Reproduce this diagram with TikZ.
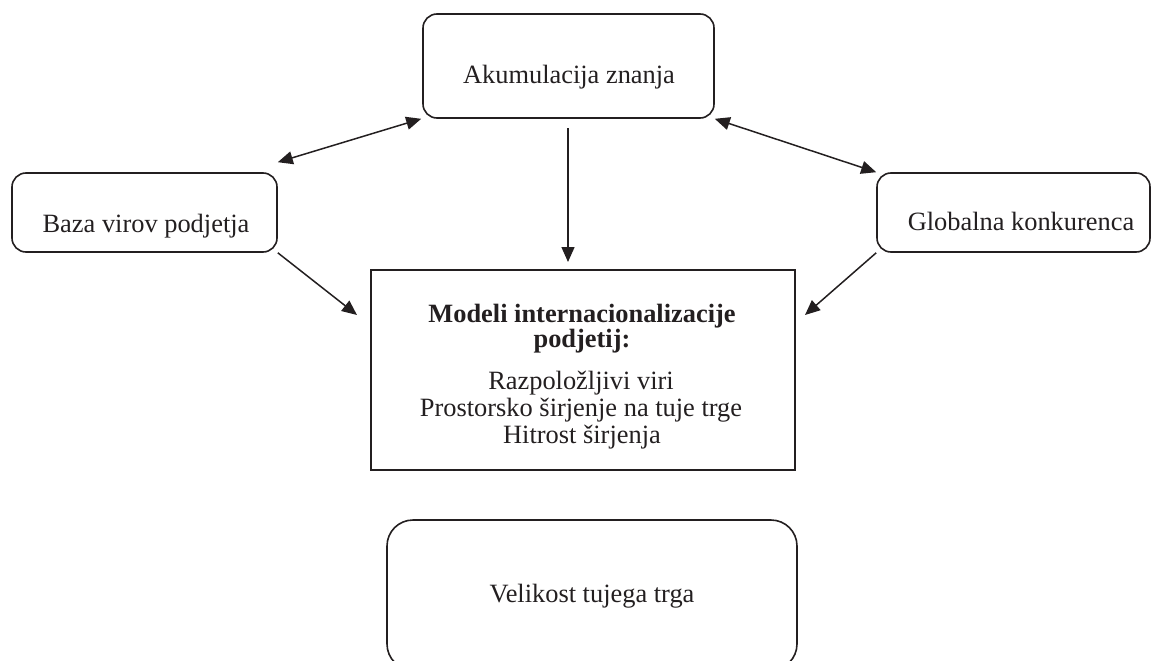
\documentclass[tikz,border=0pt]{standalone}
\usepackage{fontspec}
\setmainfont{Liberation Serif}
\usetikzlibrary{arrows.meta}
\definecolor{ink}{HTML}{231F20}
\begin{document}
\begin{tikzpicture}[x=1pt,y=-1pt,
  rbox/.style={draw=ink, line width=1.6pt, rounded corners=14pt, inner sep=0pt},
  sbox/.style={draw=ink, line width=1.6pt, inner sep=0pt},
  txt/.style={text=ink, inner sep=0pt, anchor=base, font=\fontsize{26.4}{27}\selectfont},
  btxt/.style={txt, font=\fontsize{26.4}{27}\selectfont\bfseries},
  conn/.style={draw=ink, line width=1.5pt, -{Triangle[length=15pt,width=13pt]}},
  biconn/.style={draw=ink, line width=1.5pt, {Triangle[length=15pt,width=13pt]}-{Triangle[length=15pt,width=13pt]}}
]
\useasboundingbox (0,0) rectangle (1151,661);
% boxes
\node[rbox, minimum width=291pt, minimum height=104pt] (akum) at (568.5,66) {};
\node[rbox, minimum width=265pt, minimum height=79pt] (baza) at (144.5,212.5) {};
\node[rbox, minimum width=273pt, minimum height=79pt] (glob) at (1013.5,212.5) {};
\node[sbox, minimum width=424pt, minimum height=200pt] (model) at (583,370) {};
\node[rbox, rounded corners=26pt, minimum width=410pt, minimum height=150pt] (vel) at (592,595) {};
% texts
\node[txt] (akumt) at (569,83) {Akumulacija znanja};
\node[txt] (bazat) at (146,232) {Baza virov podjetja};
\node[txt] (globt) at (1021,230) {Globalna konkurenca};
\node[btxt] (m1) at (582,322) {Modeli internacionalizacije};
\node[btxt] (m2) at (582,347) {podjetij:};
\node[txt] (m3) at (581,389) {Razpoložljivi viri};
\node[txt] (m4) at (581,416) {Prostorsko širjenje na tuje trge};
\node[txt] (m5) at (582,443) {Hitrost širjenja};
\node[txt] (velt) at (592,602) {Velikost tujega trga};
% connector ends
\coordinate (bm) at (357,315);
\coordinate (gm) at (805,315);
\coordinate (atop) at (568,128);
\coordinate (mtop) at (568,262);
% connectors
\draw[biconn] ([yshift=10pt]baza.north east) -- ([xshift=-1pt]akum.south west);
\draw[biconn] (akum.south east) -- (glob.north west);
\draw[conn] (atop) -- (mtop);
\draw[conn] (baza.south east) -- (bm);
\draw[conn] (glob.south west) -- (gm);
\end{tikzpicture}
\end{document}
